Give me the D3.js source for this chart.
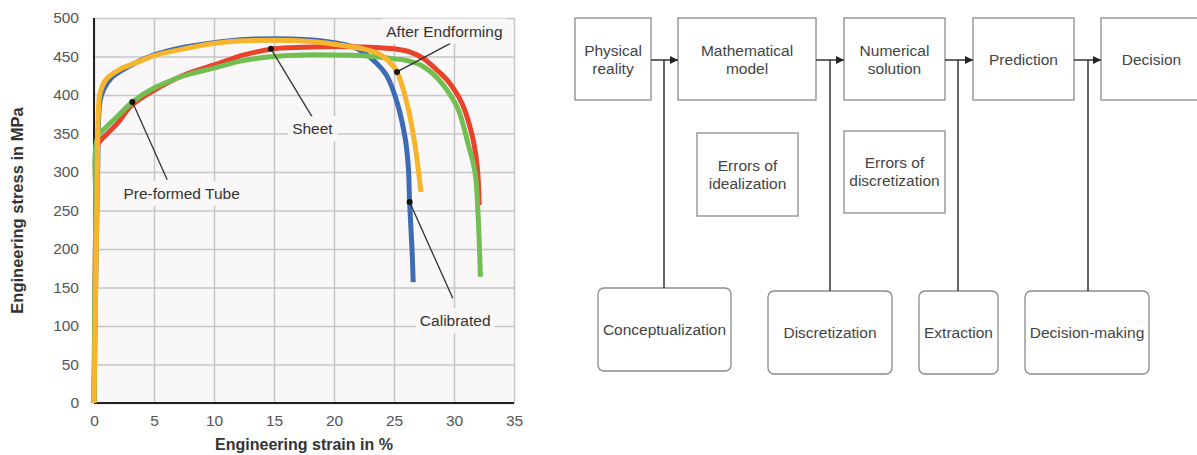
<!DOCTYPE html>
<html>
<head>
<meta charset="utf-8">
<script src="https://cdn.jsdelivr.net/npm/d3@7"></script>
<style>
  body { margin: 0; background: #fff; }
  svg { display: block; font-family: "Liberation Sans", Arial, sans-serif; }
</style>
</head>
<body>
<svg id="fig" width="1197" height="455"></svg>
<script>
// stress-strain curves, [strain %, stress MPa]
const sheet = [[0,0],[0.15,250],[0.3,335],[1,348],[2,364],[3.1,386],[5,406],[7.5,426],[10,439],[12.5,452],[15,460],[17.5,462],[20,463],[23,462],[25,460],[26.3,456],[27.5,447],[28.6,432],[29.4,420],[30.1,405],[30.7,388],[31.2,366],[31.65,338],[31.95,305],[32.1,257]];
const preformedTube = [[0,0],[0.15,250],[0.3,345],[1,358],[2,373],[3.2,391],[5,409],[7.5,425],[10,435],[12.5,445],[15,450],[17.5,452],[20,452],[22.5,451],[24.4,448],[26,445],[27.2,439],[28.2,428],[29.1,413],[30.3,383],[31.2,335],[31.75,300],[32,247],[32.2,164]];
const calibrated = [[0,0],[0.3,300],[0.5,392],[0.8,407],[1.5,423],[3,438],[5,452],[7.5,462],[10,468],[12.5,472],[15,473],[17.5,472],[20,468],[21.5,463],[22.5,455],[23.5,442],[24.4,425],[25.3,388],[25.95,342],[26.2,305],[26.3,261],[26.5,200],[26.6,157]];
const afterEndforming = [[0,0],[0.25,260],[0.35,370],[0.5,402],[1,420],[2,432],[3.7,443],[5,451],[7.8,461],[10,467],[12,470],[15,471],[17.5,470],[20,466],[22.4,460],[23.7,454],[24.5,445],[25.25,430],[26.1,388],[26.7,340],[27.05,300],[27.25,274]];

const xTicks = [0, 5, 10, 15, 20, 25, 30, 35];
const yTicks = [0, 50, 100, 150, 200, 250, 300, 350, 400, 450, 500];

// callouts: name, point on curve, end of leader, label centre
const calloutNames = ["Sheet", "After Endforming", "Pre-formed Tube", "Calibrated"];
const calloutPoints = [[14.75, 460], [25.25, 430], [3.2, 391], [26.3, 261]];
const calloutEnds = [[18.2, 371], [29.7, 467], [6.1, 290], [29.9, 136]];
const calloutLabels = [[18.2, 356], [29.2, 483], [7.3, 272], [30.1, 107]];

// flow diagram text
const stages = [["Physical", "reality"], ["Mathematical", "model"], ["Numerical", "solution"], ["Prediction"], ["Decision"]];
const errors = [["Errors of", "idealization"], ["Errors of", "discretization"]];
const steps = ["Conceptualization", "Discretization", "Extraction", "Decision-making"];

const svg = d3.select("#fig");

// ---------- left chart ----------
const plot = { left: 94, top: 18, right: 514, bottom: 403 };
const x = d3.scaleLinear().domain([0, 35]).range([plot.left, plot.right]);
const y = d3.scaleLinear().domain([0, 500]).range([plot.bottom, plot.top]);

svg.append("rect")
  .attr("x", plot.left).attr("y", plot.top)
  .attr("width", plot.right - plot.left).attr("height", plot.bottom - plot.top)
  .attr("fill", "#f9f7f7");

const gx = svg.append("g")
  .attr("transform", `translate(0,${plot.bottom})`)
  .call(d3.axisBottom(x).tickValues(xTicks).tickSize(-(plot.bottom - plot.top)).tickPadding(12));
const gy = svg.append("g")
  .attr("transform", `translate(${plot.left},0)`)
  .call(d3.axisLeft(y).tickValues(yTicks).tickSize(-(plot.right - plot.left)).tickPadding(15));

[gx, gy].forEach(g => {
  g.select(".domain").remove();
  g.selectAll(".tick line").attr("stroke", "#c6c6c6").attr("stroke-width", 1.5);
  g.selectAll(".tick text").attr("fill", "#555").style("font-size", "15.5px")
    .style("font-family", "'Liberation Sans', Arial, sans-serif");
});

// black axis lines
svg.append("line").attr("x1", plot.left).attr("x2", plot.left)
  .attr("y1", plot.top).attr("y2", plot.bottom).attr("stroke", "#222").attr("stroke-width", 2);
svg.append("line").attr("x1", plot.left).attr("x2", plot.right)
  .attr("y1", plot.bottom).attr("y2", plot.bottom).attr("stroke", "#222").attr("stroke-width", 2);

svg.append("text")
  .attr("x", (plot.left + plot.right) / 2).attr("y", 450)
  .attr("text-anchor", "middle").attr("font-weight", "bold").attr("font-size", 16).attr("fill", "#333")
  .text("Engineering strain in %");
svg.append("text")
  .attr("transform", `translate(23,${(plot.top + plot.bottom) / 2}) rotate(-90)`)
  .attr("text-anchor", "middle").attr("font-weight", "bold").attr("font-size", 16.5).attr("fill", "#333")
  .text("Engineering stress in MPa");

const line = d3.line().x(d => x(d[0])).y(d => y(d[1])).curve(d3.curveCatmullRom.alpha(0.5));

const series = [
  { data: calibrated, color: "#3d6cb4" },
  { data: sheet, color: "#e8432b" },
  { data: preformedTube, color: "#72be52" },
  { data: afterEndforming, color: "#f6b52d" }
];
svg.append("g").selectAll("path")
  .data(series)
  .join("path")
  .attr("d", d => line(d.data))
  .attr("fill", "none")
  .attr("stroke", d => d.color)
  .attr("stroke-width", 5)
  .attr("stroke-linecap", "butt")
  .attr("stroke-linejoin", "round");

// callouts
const callouts = calloutNames.map((n, i) => ({ name: n, p: calloutPoints[i], e: calloutEnds[i], l: calloutLabels[i] }));
const cg = svg.append("g");
cg.selectAll("line")
  .data(callouts)
  .join("line")
  .attr("x1", d => x(d.p[0])).attr("y1", d => y(d.p[1]))
  .attr("x2", d => x(d.e[0])).attr("y2", d => y(d.e[1]))
  .attr("stroke", "#333").attr("stroke-width", 1.3);
cg.selectAll("circle")
  .data(callouts)
  .join("circle")
  .attr("cx", d => x(d.p[0])).attr("cy", d => y(d.p[1]))
  .attr("r", 3).attr("fill", "#111");

const lab = cg.selectAll("g.lab")
  .data(callouts)
  .join("g").attr("class", "lab")
  .attr("transform", d => `translate(${x(d.l[0])},${y(d.l[1])})`);
lab.append("rect").attr("fill", "#f9f7f7");
lab.append("text")
  .attr("text-anchor", "middle").attr("dy", "0.35em")
  .attr("font-size", 15.5).attr("fill", "#333")
  .text(d => d.name);
lab.each(function () {
  const g = d3.select(this);
  const b = g.select("text").node().getBBox();
  g.select("rect").attr("x", b.x - 4).attr("y", b.y - 4).attr("width", b.width + 8).attr("height", b.height + 8);
});

// ---------- right flow diagram ----------
const stageBox = [[575, 651], [678, 816], [844, 945], [973, 1074], [1101, 1202]];
const stageTop = 18, stageBottom = 100, flowY = 60;
const errorBox = [[697, 798, 133, 216], [844, 945, 131, 213]];
const stepBox = [[598, 731, 288, 371], [768, 892, 291, 374], [919, 998, 291, 374], [1025, 1149, 291, 374]];
const stemX = [664, 830, 958, 1088];

svg.append("defs").append("marker")
  .attr("id", "arrow").attr("viewBox", "0 0 10 10")
  .attr("refX", 10).attr("refY", 5)
  .attr("markerWidth", 8).attr("markerHeight", 8).attr("markerUnits", "userSpaceOnUse")
  .attr("orient", "auto")
  .append("path").attr("d", "M0,0L10,5L0,10z").attr("fill", "#222");

const fg = svg.append("g").attr("font-size", 15.5).attr("fill", "#444");

function multiline(g, lines, cx, cy) {
  const t = g.append("text").attr("text-anchor", "middle").attr("fill", "#444");
  lines.forEach((s, i) => {
    t.append("tspan").attr("x", cx)
      .attr("y", cy + (i - (lines.length - 1) / 2) * 18)
      .attr("dy", "0.35em").text(s);
  });
}

stages.forEach((lines, i) => {
  const [x0, x1] = stageBox[i];
  fg.append("rect").attr("x", x0).attr("y", stageTop).attr("width", x1 - x0).attr("height", stageBottom - stageTop)
    .attr("fill", "none").attr("stroke", "#8a8a8a").attr("stroke-width", 1.3);
  multiline(fg, lines, (x0 + x1) / 2, flowY);
});

errors.forEach((lines, i) => {
  const [x0, x1, y0, y1] = errorBox[i];
  fg.append("rect").attr("x", x0).attr("y", y0).attr("width", x1 - x0).attr("height", y1 - y0)
    .attr("fill", "none").attr("stroke", "#8a8a8a").attr("stroke-width", 1.3);
  multiline(fg, lines, (x0 + x1) / 2, (y0 + y1) / 2);
});

steps.forEach((s, i) => {
  const [x0, x1, y0, y1] = stepBox[i];
  fg.append("rect").attr("x", x0).attr("y", y0).attr("width", x1 - x0).attr("height", y1 - y0)
    .attr("rx", 6).attr("fill", "none").attr("stroke", "#8a8a8a").attr("stroke-width", 1.3);
  multiline(fg, [s], (x0 + x1) / 2, (y0 + y1) / 2);
  // stem from the arrow down to this step
  fg.append("line").attr("x1", stemX[i]).attr("x2", stemX[i])
    .attr("y1", flowY).attr("y2", y0).attr("stroke", "#333").attr("stroke-width", 1.5);
});

// arrows between stages
for (let i = 0; i < stageBox.length - 1; i++) {
  fg.append("line")
    .attr("x1", stageBox[i][1]).attr("x2", stageBox[i + 1][0])
    .attr("y1", flowY).attr("y2", flowY)
    .attr("stroke", "#333").attr("stroke-width", 1.5)
    .attr("marker-end", "url(#arrow)");
}
</script>
</body>
</html>
